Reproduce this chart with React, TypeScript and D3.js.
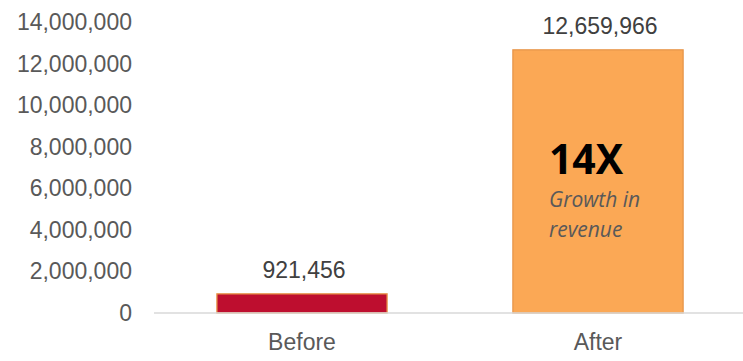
import React from "react";
import * as d3 from "d3";

const categories = ["Before", "After"];
const revenue = [921456, 12659966];
const barColors = ["#BE0E2F", "#FBA855"];
const yTicks = [0, 2000000, 4000000, 6000000, 8000000, 10000000, 12000000, 14000000];
const calloutTitle = "14X";
const calloutLines = ["Growth in", "revenue"];

export default function App() {
  const W = 743, H = 361;
  const x = d3.scaleBand<string>().domain(categories).range([154, 746]).paddingInner(0.425).paddingOuter(0.2125);
  const y = d3.scaleLinear().domain([0, 14000000]).range([313, 22]);
  const fmt = d3.format(",");
  const font = "'Liberation Sans', Arial, sans-serif";
  const fs = 23;
  const afterX = x("After")!;
  return (
    <svg width={W} height={H} style={{ position: "absolute", left: 0, top: 0 }}>
      <rect width={W} height={H} fill="#fff" />
      {yTicks.map((t) => (
        <text key={t} x={132} y={y(t)} dy="0.35em" textAnchor="end" fontFamily={font} fontSize={fs} fill="#595959">
          {fmt(t)}
        </text>
      ))}
      {categories.map((c, i) => (
        <g key={c}>
          <rect x={x(c)} y={y(revenue[i])} width={x.bandwidth()} height={y(0) - y(revenue[i])} fill={barColors[i]} stroke="#E8954A" strokeWidth={1.3} />
          <text x={x(c)! + x.bandwidth() / 2 + 2} y={y(revenue[i]) - 16} textAnchor="middle" fontFamily={font} fontSize={fs} fill="#404040">
            {fmt(revenue[i])}
          </text>
          <text x={x(c)! + x.bandwidth() / 2} y={350} textAnchor="middle" fontFamily={font} fontSize={fs} fill="#595959">
            {c}
          </text>
        </g>
      ))}
      <line x1={154} x2={743} y1={y(0)} y2={y(0)} stroke="#D9D9D9" strokeWidth={1.5} />
      <text x={afterX + 36} y={174} fontFamily="'Open Sans', sans-serif" fontWeight="bold" fontSize={41} fill="#000">
        {calloutTitle}
      </text>
      {calloutLines.map((l, i) => (
        <text key={l} x={afterX + 36} y={207 + i * 30} fontFamily="'Open Sans', sans-serif" fontStyle="italic" fontSize={21} fill="#595959">
          {l}
        </text>
      ))}
    </svg>
  );
}
